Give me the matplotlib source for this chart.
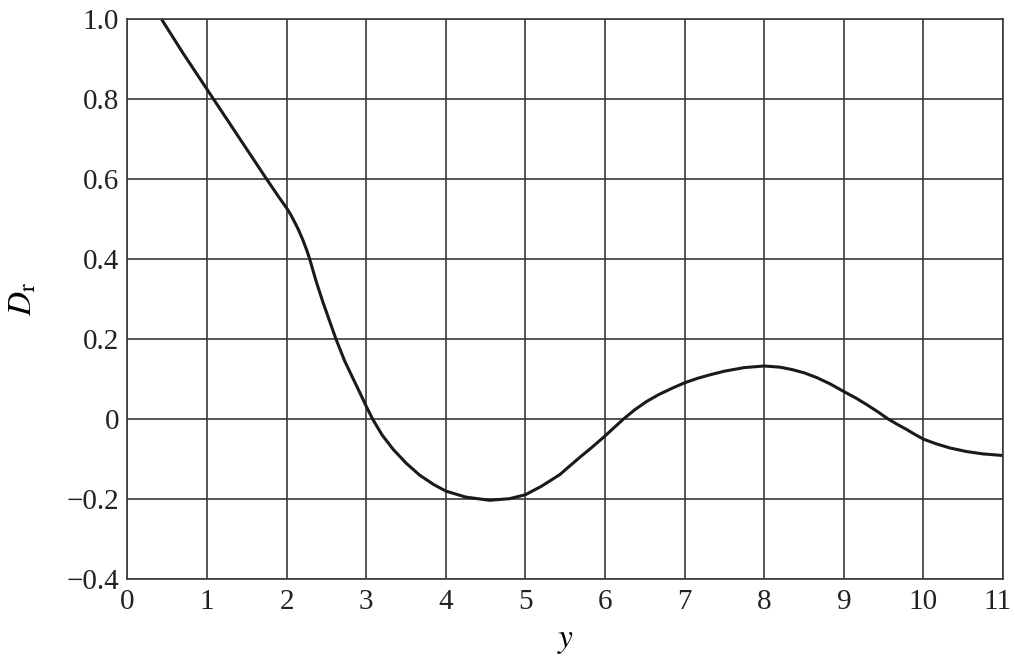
import matplotlib
matplotlib.use("Agg")
import matplotlib.pyplot as plt
import matplotlib.transforms as mtransforms

# values
y_vals = [0.43, 0.7, 1.0, 1.3, 1.5, 1.75, 1.9, 2.0, 2.05, 2.1, 2.15, 2.2, 2.25, 2.29,
          2.37, 2.46, 2.54, 2.62, 2.73, 2.84, 2.92, 3.0, 3.08, 3.2, 3.34, 3.5, 3.67,
          3.85, 4.0, 4.25, 4.55, 4.8, 5.0, 5.2, 5.43, 5.68, 5.85, 6.0, 6.12, 6.23,
          6.37, 6.52, 6.68, 6.85, 7.0, 7.16, 7.32, 7.5, 7.75, 8.0, 8.2, 8.35, 8.5,
          8.66, 8.83, 9.0, 9.15, 9.29, 9.43, 9.56, 9.68, 9.79, 9.9, 10.0, 10.15,
          10.33, 10.54, 10.75, 11.0]
dr_vals = [1.00, 0.915, 0.825, 0.735, 0.675, 0.60, 0.556, 0.528, 0.512, 0.493, 0.473,
           0.45, 0.424, 0.40, 0.345, 0.29, 0.245, 0.20, 0.145, 0.099, 0.066, 0.032,
           0.0, -0.04, -0.076, -0.11, -0.14, -0.164, -0.18, -0.195, -0.203, -0.199,
           -0.189, -0.168, -0.139, -0.096, -0.068, -0.042, -0.02, 0.0, 0.023, 0.044,
           0.062, 0.078, 0.091, 0.102, 0.111, 0.12, 0.129, 0.133, 0.13, 0.124, 0.116,
           0.104, 0.088, 0.069, 0.053, 0.036, 0.018, 0.0, -0.014, -0.026, -0.039,
           -0.05, -0.061, -0.072, -0.081, -0.087, -0.091]

xticks = list(range(0, 12))
yticks = [-0.4, -0.2, 0, 0.2, 0.4, 0.6, 0.8, 1.0]
ytick_labels = ["\u22120.4", "\u22120.2", "0", "0.2", "0.4", "0.6", "0.8", "1.0"]

plt.rcParams['font.family'] = ['Liberation Serif', 'DejaVu Serif']
plt.rcParams['mathtext.fontset'] = 'stix'

fig = plt.figure(figsize=(10.15, 6.6), dpi=100)
ax = fig.add_axes([0.1256, 0.1227, 0.8626, 0.8478])

ax.plot(y_vals, dr_vals, color='#1a1a1a', lw=2.2, solid_capstyle='butt')

ax.set_xlim(0, 11)
ax.set_ylim(-0.4, 1.0)
ax.set_xticks(xticks)
ax.set_yticks(yticks)
ax.set_yticklabels(ytick_labels)
ax.grid(True, color='#3a3a3a', lw=1.2)
ax.set_axisbelow(True)
for s in ax.spines.values():
    s.set_color('#3a3a3a')
    s.set_linewidth(1.2)
ax.tick_params(direction='in', length=0, labelsize=21, colors='#222222')
ax.tick_params(axis='x', pad=7)
ax.tick_params(axis='y', pad=6)

# keep the "11" label inside the figure
last = ax.get_xticklabels()[-1]
last.set_transform(last.get_transform() + mtransforms.ScaledTranslation(-6 / 100, 0, fig.dpi_scale_trans))

ax.set_xlabel(r'$y$', fontsize=24, labelpad=8)
ax.set_ylabel(r'$D_\mathrm{r}$', fontsize=24, labelpad=20)

fig.savefig('out.png', dpi=100)
